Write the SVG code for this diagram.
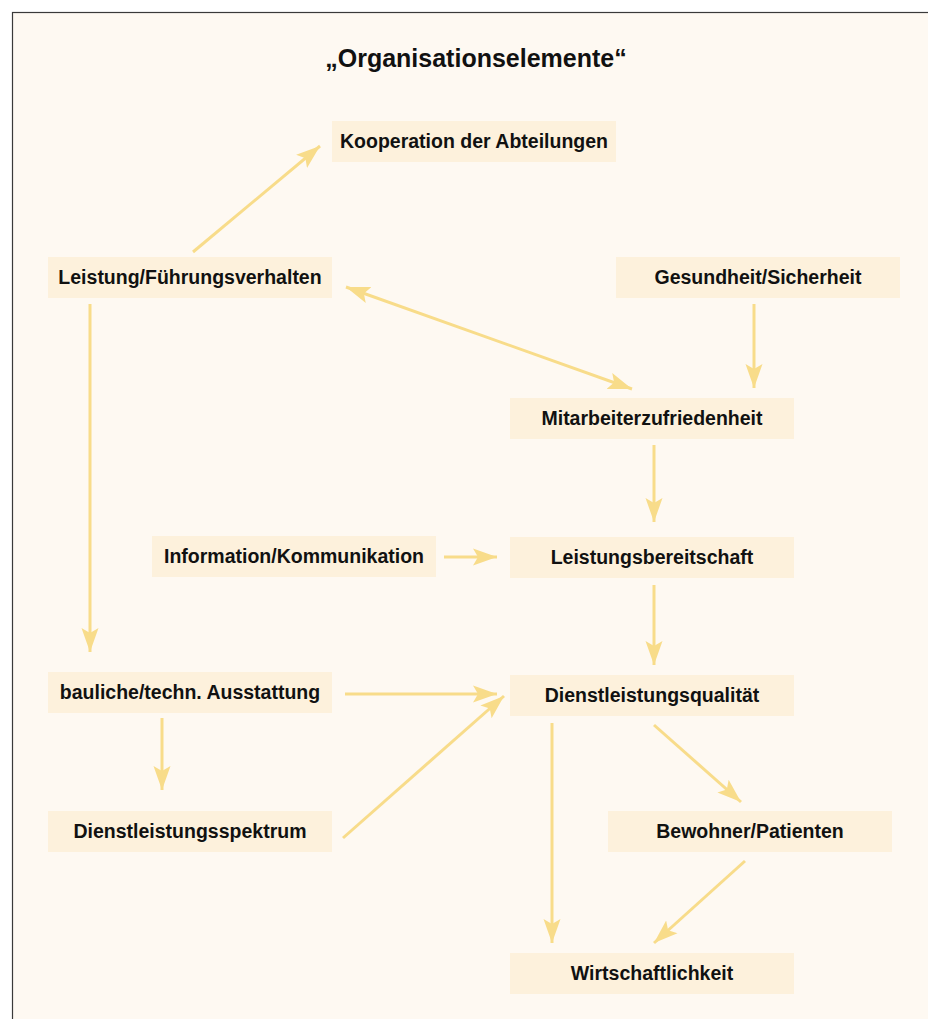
<svg xmlns="http://www.w3.org/2000/svg" width="928" height="1019" viewBox="0 0 928 1019">
<style>
.bg{fill:#FEF9F2;stroke:#3a3a3a;stroke-width:1.2}
.box{fill:#FDF1DC}
.lbl{font-family:"Liberation Sans",Arial,sans-serif;font-weight:bold;font-size:19.5px;fill:#111;text-anchor:middle}
.title{font-family:"Liberation Sans",Arial,sans-serif;font-weight:bold;font-size:25px;fill:#111;text-anchor:middle}
.c{stroke:#F8DC8A;stroke-width:3;fill:none}
</style>
<defs>
<marker id="ah" markerUnits="userSpaceOnUse" markerWidth="26" markerHeight="20" viewBox="0 0 26 20" refX="24" refY="10" orient="auto-start-reverse">
<path d="M0,1.5 L24,10 L0,18.5 L5,10 Z" fill="#F8DC8A"/>
</marker>
</defs>
<rect class="bg" x="12.5" y="12.5" width="930" height="1020"/>
<text class="title" x="476" y="67">„Organisationselemente“</text>

<g id="n-kooperation"><rect class="box" x="332" y="121" width="284" height="41"/><text class="lbl" x="474" y="148">Kooperation der Abteilungen</text></g>
<g id="n-leistung"><rect class="box" x="48" y="257" width="284" height="41"/><text class="lbl" x="190" y="284">Leistung/Führungsverhalten</text></g>
<g id="n-gesundheit"><rect class="box" x="616" y="257" width="284" height="41"/><text class="lbl" x="758" y="284">Gesundheit/Sicherheit</text></g>
<g id="n-mitarbeiter"><rect class="box" x="510" y="398" width="284" height="41"/><text class="lbl" x="652" y="425">Mitarbeiterzufriedenheit</text></g>
<g id="n-information"><rect class="box" x="152" y="536" width="284" height="41"/><text class="lbl" x="294" y="563">Information/Kommunikation</text></g>
<g id="n-bereitschaft"><rect class="box" x="510" y="537" width="284" height="41"/><text class="lbl" x="652" y="564">Leistungsbereitschaft</text></g>
<g id="n-bauliche"><rect class="box" x="48" y="672" width="284" height="41"/><text class="lbl" x="190" y="699">bauliche/techn. Ausstattung</text></g>
<g id="n-qualitaet"><rect class="box" x="510" y="675" width="284" height="41"/><text class="lbl" x="652" y="702">Dienstleistungsqualität</text></g>
<g id="n-spektrum"><rect class="box" x="48" y="811" width="284" height="41"/><text class="lbl" x="190" y="838">Dienstleistungsspektrum</text></g>
<g id="n-bewohner"><rect class="box" x="608" y="811" width="284" height="41"/><text class="lbl" x="750" y="838">Bewohner/Patienten</text></g>
<g id="n-wirtschaft"><rect class="box" x="510" y="953" width="284" height="41"/><text class="lbl" x="652" y="980">Wirtschaftlichkeit</text></g>

<g id="connectors">
<line class="c" x1="193" y1="252" x2="320" y2="146" marker-end="url(#ah)"/>
<line class="c" x1="346" y1="287" x2="632" y2="389" marker-start="url(#ah)" marker-end="url(#ah)"/>
<line class="c" x1="754" y1="304" x2="754" y2="388" marker-end="url(#ah)"/>
<line class="c" x1="654" y1="445" x2="654" y2="522" marker-end="url(#ah)"/>
<line class="c" x1="444" y1="557" x2="497" y2="557" marker-end="url(#ah)"/>
<line class="c" x1="654" y1="585" x2="654" y2="665" marker-end="url(#ah)"/>
<line class="c" x1="90" y1="304" x2="90" y2="652" marker-end="url(#ah)"/>
<line class="c" x1="345" y1="694" x2="497" y2="694" marker-end="url(#ah)"/>
<line class="c" x1="343" y1="838" x2="504" y2="696" marker-end="url(#ah)"/>
<line class="c" x1="162" y1="718" x2="162" y2="790" marker-end="url(#ah)"/>
<line class="c" x1="552" y1="723" x2="552" y2="943" marker-end="url(#ah)"/>
<line class="c" x1="654" y1="725" x2="741" y2="802" marker-end="url(#ah)"/>
<line class="c" x1="745" y1="861" x2="654" y2="943" marker-end="url(#ah)"/>
</g>
</svg>
